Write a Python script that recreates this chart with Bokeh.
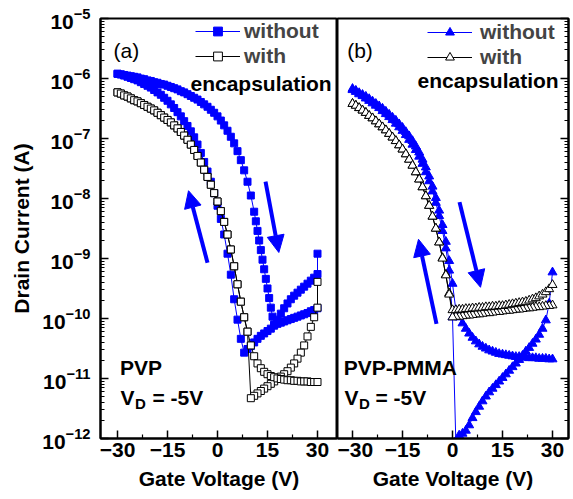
from bokeh.plotting import figure
from bokeh.layouts import row
from bokeh.models import (Range1d, FixedTicker, Label, Legend, LegendItem, Arrow, NormalHead,
                          CustomJSTickFormatter)
from bokeh.embed import file_html
from bokeh.resources import INLINE

# ---------------- data (log10 of drain current) ----------------
V_DOWN = [30, 29, 28, 27, 26, 25, 24, 23, 22, 21, 20, 19, 18, 17, 16, 15, 14, 13, 12, 11,
          10, 9, 8, 7, 6, 5, 4, 3, 2, 1, 0, -1, -2, -3, -4, -5, -6, -7, -8, -9,
          -10, -11, -12, -13, -14, -15, -16, -17, -18, -19, -20, -21, -22, -23, -24, -25,
          -26, -27, -28, -29, -30]
V_UP = list(reversed(V_DOWN))

# (a) PVP, without encapsulation
a_wo_fwd_V = [30] + V_DOWN
a_wo_fwd_logI = [-8.92,
    -9.26, -9.32, -9.37, -9.42, -9.47, -9.52, -9.57, -9.62, -9.68, -9.75,
    -9.83, -9.92, -10.02, -10.12, -10.17, -10.21, -10.25, -10.29, -10.34, -10.40,
    -10.46, -10.51, -10.57, -10.34, -10.02, -9.68, -9.27, -8.92, -8.60, -8.34,
    -8.12, -7.91, -7.72, -7.55, -7.39, -7.24, -7.10, -6.98, -6.88, -6.79,
    -6.71, -6.63, -6.56, -6.49, -6.43, -6.37, -6.32, -6.27, -6.23, -6.19,
    -6.15, -6.12, -6.09, -6.06, -6.03, -6.01, -5.99, -5.97, -5.95, -5.93, -5.92]
a_wo_rev_V = [-30, -29, -28, -27, -26, -25, -24, -23, -22, -21, -20, -19, -18, -17, -16,
              -15, -14, -13, -12, -11, -10, -9, -8, -7, -6, -5, -4, -3, -2, -1, 0, 1, 2,
              3, 4, 5, 6, 7, 8, 9, 10, 11, 11.5, 12, 12.5, 13, 13.5, 14, 14.5, 15, 15.5,
              16, 16.5, 17, 18, 19, 20, 21, 22, 23, 24, 25, 26, 27, 28, 29, 30]
a_wo_rev_logI = [
    -5.92, -5.93, -5.94, -5.95, -5.96, -5.97, -5.98, -6.00, -6.01, -6.03,
    -6.04, -6.06, -6.07, -6.09, -6.10, -6.12, -6.14, -6.16, -6.18, -6.21,
    -6.23, -6.26, -6.29, -6.32, -6.35, -6.39, -6.43, -6.47, -6.52, -6.57,
    -6.63, -6.70, -6.78, -6.87, -6.97, -7.08, -7.21, -7.36, -7.53, -7.72,
    -7.95, -8.22,
    -8.38, -8.54, -8.70, -8.86, -9.02, -9.18, -9.34, -9.50, -9.66, -9.82, -9.97, -10.10,
    -10.09, -10.07, -10.05, -10.03, -10.01, -9.99, -9.97, -9.95, -9.93, -9.91, -9.88, -9.86, -9.83]

# (a) PVP, with encapsulation
a_w_fwd_V = [30] + V_DOWN
a_w_fwd_logI = [-9.39,
    -9.82, -9.98, -10.14, -10.30, -10.45, -10.57, -10.67, -10.75, -10.82, -10.88,
    -10.93, -10.97, -11.01, -11.05, -11.09, -11.13, -11.17, -11.21, -11.25, -11.29,
    -11.33, -10.22, -9.98, -9.72, -9.43, -9.13, -8.85, -8.60, -8.39, -8.21,
    -8.05, -7.91, -7.77, -7.64, -7.52, -7.40, -7.29, -7.19, -7.10, -7.02,
    -6.95, -6.89, -6.83, -6.78, -6.73, -6.69, -6.65, -6.61, -6.57, -6.53,
    -6.50, -6.47, -6.44, -6.41, -6.38, -6.36, -6.33, -6.30, -6.28, -6.25, -6.23]
a_w_rev_V = V_UP
a_w_rev_logI = [
    -6.23, -6.25, -6.28, -6.30, -6.33, -6.36, -6.38, -6.41, -6.44, -6.47,
    -6.50, -6.53, -6.57, -6.61, -6.65, -6.69, -6.73, -6.78, -6.83, -6.89,
    -6.95, -7.02, -7.10, -7.19, -7.29, -7.40, -7.52, -7.64, -7.77, -7.91,
    -8.05, -8.21, -8.39, -8.60, -8.85, -9.13, -9.43, -9.72, -9.98, -10.22,
    -10.45, -10.63, -10.75, -10.83, -10.89, -10.93, -10.96, -10.98, -11.00, -11.01,
    -11.02, -11.03, -11.03, -11.04, -11.04, -11.05, -11.05, -11.05, -11.06, -11.06, -11.06]

# (b) PVP-PMMA, without encapsulation
b_wo_fwd_V = V_DOWN
b_wo_fwd_logI = [
    -10.68, -10.68, -10.67, -10.67, -10.67, -10.66, -10.66, -10.66, -10.65, -10.65,
    -10.64, -10.64, -10.63, -10.62, -10.61, -10.60, -10.59, -10.57, -10.55, -10.53,
    -10.50, -10.47, -10.43, -10.38, -10.32, -10.25, -10.17, -10.08, -9.98, -9.86,
    -9.42, -9.04, -8.72, -8.44, -8.20, -7.99, -7.80, -7.63, -7.48, -7.35,
    -7.23, -7.13, -7.04, -6.96, -6.89, -6.82, -6.76, -6.70, -6.65, -6.60,
    -6.55, -6.50, -6.46, -6.42, -6.38, -6.34, -6.30, -6.27, -6.24, -6.20, -6.17]
b_wo_rev_V = V_UP
b_wo_rev_logI = [
    -6.19, -6.22, -6.26, -6.29, -6.33, -6.37, -6.41, -6.45, -6.49, -6.54,
    -6.59, -6.64, -6.69, -6.75, -6.81, -6.87, -6.94, -7.02, -7.10, -7.19,
    -7.30, -7.42, -7.56, -7.71, -7.88, -8.07, -8.29, -8.54, -8.83, -9.20,
    -9.98, -12.05, -11.95, -11.92, -11.87, -11.78, -11.66, -11.56, -11.47, -11.38,
    -11.30, -11.23, -11.17, -11.11, -11.05, -10.99, -10.93, -10.87, -10.81, -10.75,
    -10.69, -10.62, -10.55, -10.49, -10.42, -10.35, -10.27, -10.17, -10.03, -9.75, -9.23]

# (b) PVP-PMMA, with encapsulation
b_w_fwd_V = V_DOWN
b_w_fwd_logI = [
    -9.78, -9.79, -9.79, -9.80, -9.81, -9.81, -9.82, -9.83, -9.83, -9.84,
    -9.85, -9.85, -9.86, -9.87, -9.87, -9.88, -9.89, -9.89, -9.90, -9.91,
    -9.91, -9.92, -9.93, -9.93, -9.94, -9.95, -9.95, -9.96, -9.97, -9.97,
    -9.98, -9.58, -9.27, -8.99, -8.73, -8.50, -8.30, -8.12, -7.96, -7.81,
    -7.68, -7.56, -7.45, -7.35, -7.26, -7.18, -7.11, -7.04, -6.98, -6.92,
    -6.86, -6.81, -6.76, -6.71, -6.66, -6.62, -6.57, -6.53, -6.49, -6.45, -6.42]
b_w_rev_V = V_UP
b_w_rev_logI = [
    -6.42, -6.45, -6.49, -6.53, -6.57, -6.62, -6.66, -6.71, -6.76, -6.81,
    -6.86, -6.92, -6.98, -7.04, -7.11, -7.18, -7.26, -7.35, -7.45, -7.56,
    -7.68, -7.81, -7.96, -8.12, -8.30, -8.50, -8.73, -9.00, -9.28, -9.60,
    -9.86, -9.86, -9.85, -9.85, -9.84, -9.84, -9.83, -9.83, -9.82, -9.82,
    -9.81, -9.81, -9.80, -9.80, -9.79, -9.79, -9.78, -9.77, -9.76, -9.75,
    -9.74, -9.73, -9.72, -9.70, -9.68, -9.66, -9.63, -9.60, -9.56, -9.51, -9.44]

# sweep-direction arrows: (V_start, logI_start, V_end, logI_end)
a_arrows = [(-3.0, -9.07, -8.7, -7.87), (14.4, -7.72, 18.4, -8.9)]
b_arrows = [(-4.8, -10.09, -10.2, -8.68), (2.1, -8.06, 8.4, -9.48)]

x_ticks = [-30, -15, 0, 15, 30]
x_minor = [-37.5, -22.5, -7.5, 7.5, 22.5, 37.5]
y_decades = [-12, -11, -10, -9, -8, -7, -6, -5]

# ---------------- styling ----------------
FONT = "Liberation Sans"
BLUE = "#0000FF"
FS = "21px"
YMIN, YMAX = 10 ** -12.002, 10 ** -4.998

y_major = [10.0 ** e for e in y_decades]
y_minor = [k * 10.0 ** e for e in range(-13, -4) for k in range(2, 10)]


def style_axis(ax):
    ax.axis_line_width = 2
    ax.axis_line_color = "black"
    ax.major_tick_in = 8
    ax.major_tick_out = 0
    ax.minor_tick_in = 4
    ax.minor_tick_out = 0
    ax.major_tick_line_width = 1.5
    ax.minor_tick_line_width = 1.2
    ax.major_tick_line_color = "black"
    ax.minor_tick_line_color = "black"
    ax.major_label_text_font = FONT
    ax.major_label_text_font_style = "bold"
    ax.major_label_text_font_size = FS
    ax.major_label_text_color = "black"
    ax.axis_label_text_font = FONT
    ax.axis_label_text_font_style = "bold"
    ax.axis_label_text_font_size = FS
    ax.axis_label_text_color = "black"


def make_fig(xr, width, bl, br, yloc):
    p = figure(width=width, height=499, y_axis_type="log", y_axis_location=yloc,
               x_range=Range1d(*xr), y_range=Range1d(YMIN, YMAX),
               output_backend="svg", toolbar_location=None,
               min_border_left=bl, min_border_right=br, min_border_top=18, min_border_bottom=61)
    p.grid.visible = False
    p.outline_line_color = "black"
    p.outline_line_width = 2
    p.background_fill_color = "white"
    p.border_fill_color = "white"
    p.xaxis.ticker = FixedTicker(ticks=x_ticks, minor_ticks=x_minor)
    p.yaxis.ticker = FixedTicker(ticks=y_major, minor_ticks=y_minor)
    p.xaxis.axis_label = "Gate Voltage (V)"
    for ax in p.xaxis + p.yaxis:
        style_axis(ax)
    p.xaxis.major_label_standoff = 4
    p.xaxis.axis_label_standoff = 7
    return p


def series(p, fV, fL, rV, rL, marker, size, fill, edge, lcolor):
    V = fV + rV
    I = [10.0 ** v for v in fL + rL]
    ln = p.line(V, I, line_color=lcolor, line_width=1)
    sc = p.scatter(V, I, marker=marker, size=size, fill_color=fill, line_color=edge, line_width=1)
    return [ln, sc]


def add_arrows(p, arrows):
    for (x0, y0, x1, y1) in arrows:
        p.add_layout(Arrow(end=NormalHead(size=17, fill_color=BLUE, line_color=BLUE),
                           x_start=x0, y_start=10 ** y0, x_end=x1, y_end=10 ** y1,
                           line_color=BLUE, line_width=4))


def add_legend(p, r1, r2, x, y, standoff):
    lg = Legend(items=[LegendItem(label="without", renderers=r1),
                       LegendItem(label="with", renderers=r2)],
                location=(x, y), orientation="vertical",
                background_fill_alpha=0, border_line_color=None,
                padding=0, margin=0, spacing=0, glyph_width=45, glyph_height=22,
                label_height=25, label_standoff=standoff,
                label_text_font=FONT, label_text_font_style="bold", label_text_font_size=FS)
    p.add_layout(lg)


def txt(p, x, ly, s, bold=True, size=FS):
    p.add_layout(Label(x=x, y=10 ** ly, text=s, text_font=FONT,
                       text_font_style="bold" if bold else "normal",
                       text_font_size=size, text_align="left", text_baseline="alphabetic",
                       text_color="black"))


# ---------------- panel (a) ----------------
p1 = make_fig((-35.1, 36.0), 337, 100, 0, "left")
p1.yaxis.axis_label = "Drain Current (A)"
p1.yaxis.major_label_standoff = 10
p1.yaxis.axis_label_standoff = 6
ra1 = series(p1, a_wo_fwd_V, a_wo_fwd_logI, a_wo_rev_V, a_wo_rev_logI, "square", 7, BLUE, BLUE, BLUE)
ra2 = series(p1, a_w_fwd_V, a_w_fwd_logI, a_w_rev_V, a_w_rev_logI, "square", 7, "white", "black", "black")
add_arrows(p1, a_arrows)
add_legend(p1, ra1, ra2, 95, 370, 4)
txt(p1, -8.1, -6.083, "encapsulation")
txt(p1, -31.2, -5.533, "(a)", bold=False)
txt(p1, -29.25, -10.817, "PVP")
txt(p1, -29.1, -11.317, "V")
txt(p1, -24.75, -11.417, "D", size="15px")
txt(p1, -19.5, -11.317, "= -5V")

# ---------------- panel (b) ----------------
p2 = make_fig((-34.5, 34.8), 236, 0, 5, "right")
p2.yaxis.formatter = CustomJSTickFormatter(code="return ''")
p2.yaxis.major_label_standoff = 0
rb1 = series(p2, b_wo_fwd_V, b_wo_fwd_logI, b_wo_rev_V, b_wo_rev_logI, "triangle", 9, BLUE, BLUE, BLUE)
rb2 = series(p2, b_w_fwd_V, b_w_fwd_logI, b_w_rev_V, b_w_rev_logI, "triangle", 9, "white", "black", "black")
add_arrows(p2, b_arrows)
add_legend(p2, rb1, rb2, 90, 369, 8)
txt(p2, -10.5, -6.033, "encapsulation")
txt(p2, -31.6, -5.533, "(b)", bold=False)
txt(p2, -32.6, -10.817, "PVP-PMMA")
txt(p2, -32.4, -11.317, "V")
txt(p2, -28.05, -11.417, "D", size="15px")
txt(p2, -23.1, -11.317, "= -5V")

layout = row(p1, p2)
open("out.html", "w").write(file_html(layout, INLINE))
